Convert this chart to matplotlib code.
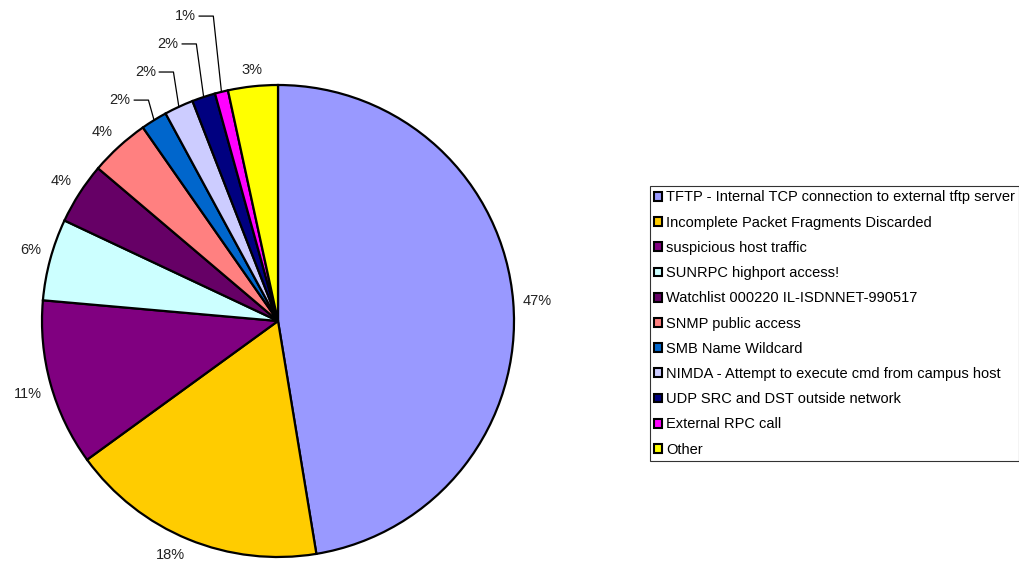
import numpy as np
import matplotlib
matplotlib.use('Agg')
import matplotlib.pyplot as plt
from matplotlib.patches import Patch

plt.rcParams['font.family'] = ['Liberation Sans', 'DejaVu Sans']

# ── Alert share data ────────────────────────────────────────────────────────
alerts = [
    'TFTP - Internal TCP connection to external tftp server',
    'Incomplete Packet Fragments Discarded',
    'suspicious host traffic',
    'SUNRPC highport access!',
    'Watchlist 000220 IL-ISDNNET-990517',
    'SNMP public access',
    'SMB Name Wildcard',
    'NIMDA - Attempt to execute cmd from campus host',
    'UDP SRC and DST outside network',
    'External RPC call',
    'Other',
]
shares = [47.4, 17.6, 11.4, 5.6, 4.2, 4.1, 1.8, 2.0, 1.6, 0.9, 3.4]
colors = ['#9999FF', '#FFCC00', '#800080', '#CCFFFF', '#660066', '#FF8080',
          '#0066CC', '#CCCCFF', '#000080', '#FF00FF', '#FFFF00']

# slices too thin for a label next to them get a callout with a leader line
callout = {6: (-0.614, 0.936), 7: (-0.508, 1.055),
           8: (-0.411, 1.174), 9: (-0.339, 1.292)}

W, H = 1020, 564
fig = plt.figure(figsize=(W / 100, H / 100), dpi=100)
cx, cy, r = 278, 321, 236
ax = fig.add_axes([(cx - r) / W, (H - cy - r) / H, 2 * r / W, 2 * r / H])

wedges, _ = ax.pie(shares, colors=colors, startangle=90, counterclock=False,
                   radius=1.0,
                   wedgeprops=dict(edgecolor='black', linewidth=1.6))

total = sum(shares)
txt_kw = dict(fontsize=10.5, color='#222222')
for i, w in enumerate(wedges):
    pct = f'{shares[i] / total * 100:.0f}%'
    mid = np.deg2rad((w.theta1 + w.theta2) / 2)
    dx, dy = np.cos(mid), np.sin(mid)
    if i in callout:
        tx, ty = callout[i]
        ax.text(tx - 0.01, ty, pct, ha='right', va='center', **txt_kw)
        elbow = tx + 0.065
        ax.plot([tx + 0.005, elbow, dx * 1.0], [ty, ty, dy * 1.0],
                color='black', lw=0.9, clip_on=False)
        continue
    rr = 1.04
    if abs(dx) < 0.3:
        ha = 'center'
    else:
        ha = 'left' if dx > 0 else 'right'
    if abs(dy) < 0.15:
        va = 'center'
    else:
        va = 'bottom' if dy > 0 else 'top'
    ax.text(dx * rr, dy * rr, pct, ha=ha, va=va, **txt_kw)

ax.set_xlim(-1, 1)
ax.set_ylim(-1, 1)
ax.axis('off')

handles = [Patch(facecolor=c, edgecolor='black', linewidth=1.5) for c in colors]
leg = fig.legend(handles, alerts, loc='upper left',
                 bbox_to_anchor=(650 / W, 1 - 186 / H),
                 fontsize=10.5, frameon=True, fancybox=False,
                 handlelength=0.55, handleheight=0.55, handletextpad=0.25,
                 labelspacing=0.77, borderpad=0.3, borderaxespad=0)
leg.get_frame().set_edgecolor('black')
leg.get_frame().set_linewidth(0.8)

fig.savefig('out.png', dpi=100, facecolor='white')
